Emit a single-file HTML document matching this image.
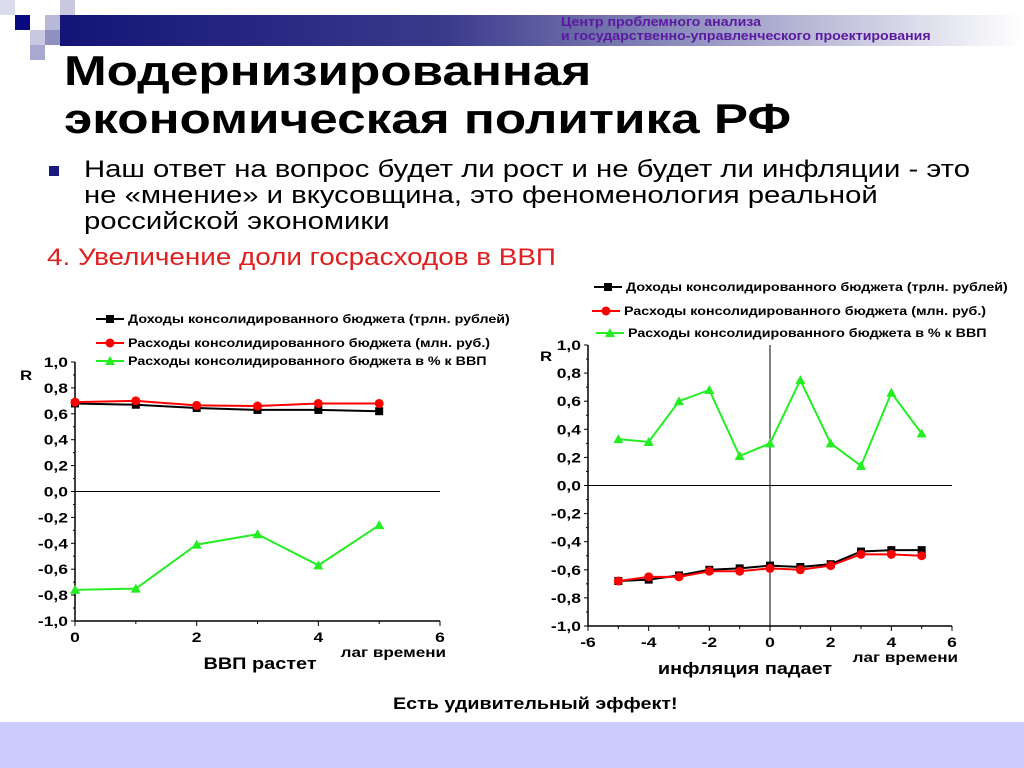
<!DOCTYPE html>
<html><head><meta charset="utf-8"><style>
body{margin:0;width:1024px;height:768px;overflow:hidden;background:#fff;font-family:"Liberation Sans",sans-serif;position:relative}
.a{position:absolute;white-space:nowrap;transform-origin:0 0}
</style></head><body>
<div class="a" style="left:60px;top:15px;width:964px;height:31px;background:linear-gradient(90deg,#141478 0%,#3a3a8c 40%,#a0a0c8 70%,#fff 100%)"></div>
<div class="a" style="left:0;top:0;width:15px;height:15px;background:#dcdcec"></div>
<div class="a" style="left:15px;top:15px;width:15px;height:15px;background:#0a0a80"></div>
<div class="a" style="left:45px;top:15px;width:15px;height:15px;background:#b8b8d8"></div>
<div class="a" style="left:60px;top:0;width:15px;height:15px;background:#c8c8e0"></div>
<div class="a" style="left:30px;top:30px;width:15px;height:15px;background:#c8c8e0"></div>
<div class="a" style="left:45px;top:30px;width:15px;height:15px;background:#9090c0"></div>
<div class="a" style="left:30px;top:45px;width:15px;height:15px;background:#a8a8d0"></div>
<div class="a" style="left:561px;top:15px;font-size:13px;font-weight:bold;color:#5a1aa0;line-height:14px;transform:scaleX(1.09)">Центр проблемного анализа<br>и государственно-управленческого проектирования</div>
<div class="a" style="left:64px;top:47px;font-size:42px;font-weight:bold;line-height:48px;transform:scaleX(1.22)">Модернизированная<br>экономическая политика РФ</div>
<div class="a" style="left:49px;top:166px;width:10px;height:10px;background:#1a1a80"></div>
<div class="a" style="left:84px;top:157px;font-size:24px;line-height:26px;transform:scaleX(1.22)">Наш ответ на вопрос будет ли рост и не будет ли инфляции - это<br>не «мнение» и вкусовщина, это феноменология реальной<br>российской экономики</div>
<div class="a" style="left:47px;top:244px;font-size:24px;color:#e02020;transform:scaleX(1.16)">4. Увеличение доли госрасходов в ВВП</div>
<div class="a" style="left:393px;top:694px;font-size:17px;font-weight:bold;transform:scaleX(1.16)">Есть удивительный эффект!</div>
<div class="a" style="left:0;top:722px;width:1024px;height:46px;background:#ccccff"></div>
<svg id="s" class="a" style="left:0;top:0" width="1024" height="768"></svg>
<script>
const lagL=[0,1,2,3,4,5];
const revL=[0.68,0.67,0.645,0.63,0.63,0.62];
const expL=[0.69,0.70,0.665,0.66,0.68,0.68];
const gdpL=[-0.76,-0.75,-0.41,-0.33,-0.57,-0.26];
const lagR=[-5,-4,-3,-2,-1,0,1,2,3,4,5];
const gdpR=[0.33,0.31,0.60,0.68,0.21,0.30,0.75,0.30,0.14,0.66,0.37];
const revR=[-0.68,-0.67,-0.64,-0.60,-0.59,-0.57,-0.58,-0.56,-0.47,-0.46,-0.46];
const expR=[-0.68,-0.65,-0.65,-0.61,-0.61,-0.59,-0.60,-0.57,-0.49,-0.49,-0.50];
const yTicks=["1,0","0,8","0,6","0,4","0,2","0,0","-0,2","-0,4","-0,6","-0,8","-1,0"];
const xTicksL=["0","2","4","6"];
const xTicksR=["-6","-4","-2","0","2","4","6"];
const legend=["Доходы консолидированного бюджета (трлн. рублей)","Расходы консолидированного бюджета (млн. руб.)","Расходы консолидированного бюджета в % к ВВП"];
const S=document.getElementById('s');const NS='http://www.w3.org/2000/svg';
function E(t,a,p,txt){const e=document.createElementNS(NS,t);for(const k in a)e.setAttribute(k,a[k]);if(txt!==undefined)e.textContent=txt;(p||S).appendChild(e);return e;}
function T(p,x,y,anchor,size,txt,sx){return E('text',{x:0,y:0,transform:`translate(${x},${y}) scale(${sx},1)`,'text-anchor':anchor,'font-size':size,'font-weight':'bold'},p,txt);}
function marker(g,type,x,y,c){
 if(type==0){const m=E('rect',{x:x-4,y:y-4,width:8,height:8,fill:c},g);}
 else if(type==1){const m=E('circle',{cx:x,cy:y,r:4.5,fill:c},g);}
 else{const m=E('polygon',{points:`${x},${y-5} ${x-5},${y+4} ${x+5},${y+4}`,fill:c},g);}
}
const cols=['#000','#f00','#2e2'];
function chart(o){
 const g=E('g',{});
 const X=v=>o.x0+(v-o.xmin)/(o.xmax-o.xmin)*(o.x1-o.x0);
 const Y=v=>o.y0+(1-v)/2*(o.y1-o.y0);
 E('line',{x1:o.x0,y1:o.y0,x2:o.x0,y2:o.y1,stroke:'#000','stroke-width':1.5},g);
 E('line',{x1:o.x0,y1:o.y1,x2:o.x1,y2:o.y1,stroke:'#000','stroke-width':1.5},g);
 E('line',{x1:o.x0,y1:Y(0),x2:o.x1,y2:Y(0),stroke:'#000','stroke-width':1},g);
 if(o.vline)E('line',{x1:X(0),y1:o.y0,x2:X(0),y2:o.y1,stroke:'#000','stroke-width':1},g);
 yTicks.forEach((t,i)=>{const v=1-i*0.2,y=Y(v);
  E('line',{x1:o.x0-4,y1:y,x2:o.x0,y2:y,stroke:'#000'},g);
  E('line',{x1:o.x0-2,y1:Y(v-0.1),x2:o.x0,y2:Y(v-0.1),stroke:'#000'},g);
  const tx=T(g,o.x0-7,y+5,'end',14,t,1.25);});
 o.xt.forEach(t=>{const x=X(+t);E('line',{x1:x,y1:o.y1,x2:x,y2:o.y1+5,stroke:'#000'},g);
  const tx=T(g,x,o.y1+21,'middle',14,t,1.25);});
 for(let v=o.xmin+1;v<o.xmax;v+=2)E('line',{x1:X(v),y1:o.y1,x2:X(v),y2:o.y1+3,stroke:'#000'},g);
 o.series.forEach((s,k)=>{const pts=o.lags.map((l,i)=>X(l)+','+Y(s[i])).join(' ');
  const pl=E('polyline',{points:pts,fill:'none',stroke:cols[k],'stroke-width':2},g);
  o.lags.forEach((l,i)=>marker(g,k,X(l),Y(s[i]),cols[k]));});
 const rl=T(g,o.rx,o.ry,'start',14,'R',1.2);
 const lg=T(g,o.x1+6,o.y1+36,'end',14,'лаг времени',1.22);
 const xt=T(g,o.xtx,o.y1+48,'middle',17,o.xtitle,1.17);
 legend.forEach((t,k)=>{const ly=o.ly[k];const lx=o.lx[k];
  const lgi=E('g',{},g);
  E('line',{x1:lx,y1:ly,x2:lx+28,y2:ly,stroke:cols[k],'stroke-width':2},lgi);marker(lgi,k,lx+14,ly,cols[k]);
  T(lgi,lx+32,ly+4,'start',12,t,1.19);});
}
chart({name:'gdp-chart',x0:75,x1:440,y0:362,y1:621,xmin:0,xmax:6,xt:xTicksL,lags:lagL,series:[revL,expL,gdpL],rx:20,ry:380,xtx:260,xtitle:'ВВП растет',lx:[96,96,96],ly:[319,343,361]});
chart({name:'inflation-chart',x0:588,x1:952,y0:345,y1:626,xmin:-6,xmax:6,xt:xTicksR,lags:lagR,series:[revR,expR,gdpR],rx:540,ry:361,xtx:745,xtitle:'инфляция падает',lx:[594,592,596],ly:[287,311,333],vline:true});
</script>
</body></html>
